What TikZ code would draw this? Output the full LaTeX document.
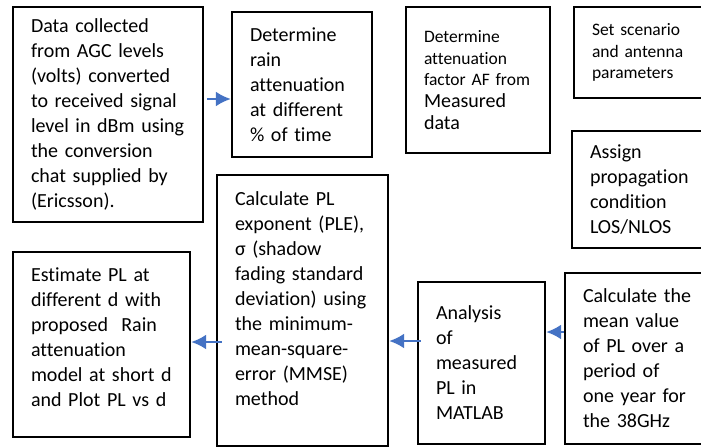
\documentclass[tikz,border=0pt]{standalone}
\usepackage{fontspec}
\setmainfont{Carlito}[Ligatures=NoCommon]
\usepackage{tikz}
\usetikzlibrary{arrows.meta}
\definecolor{flowblue}{RGB}{68,114,196}
\tikzstyle{box}=[draw=black, line width=2.4pt, align=left, inner xsep=18pt, inner ysep=0pt, font=\fontsize{20}{25}\selectfont]
\tikzstyle{smallbox} = [box, font=\fontsize{17.5}{21.5}\selectfont]
\tikzstyle{flow} = [draw, line width=2.2pt, flowblue, -{Latex[length=15pt,width=15pt]}]

\begin{document}
\begin{tikzpicture}[x=1pt, y=-1pt]

					\useasboundingbox (0,0) rectangle (701,447);
					\fill[white] (0,0) rectangle (701,447);
					\clip (0,0) rectangle (701,447);

					% top row
					\node[box, text width=154, minimum height=215] (data) at (108,114.5) {Data collected\\ from AGC levels\\ (volts) converted\\ to received signal\\ level in dBm using\\ the conversion\\ chat supplied by\\ (Ericsson).};
					\node[box, text width=104, minimum height=145] (rain) at (302,84.5) {Determine\\ rain\\ attenuation\\ at different\\ \% of time};
					\node[smallbox, text width=108, minimum height=146] (af) at (478,80) {Determine\\ attenuation\\ factor AF from\\ \fontsize{20}{22}\selectfont Measured\\ data};
					\node[smallbox, text width=110, minimum height=91] (scen) at (647,52.5) {Set scenario\\ and antenna\\ parameters};
					\node[box, text width=112, minimum height=117] (assign) at (646,189.5) {Assign\\ propagation\\ condition\\ LOS/NLOS};

					% bottom row
					\node[box, text width=141, minimum height=185] (est) at (101.5,344.5) {Estimate PL at\\ different d with\\ proposed~ Rain\\ attenuation\\ model at short d\\ and Plot PL vs d\rule[-15pt]{0pt}{15pt}};
					\node[box, text width=135, minimum height=271] (ple) at (302.5,310.5) {Calculate PL\\ exponent (PLE),\\ σ (shadow\\ fading standard\\ deviation) using\\ the minimum-\\ mean-square-\\ error (MMSE)\\ method\rule[-23pt]{0pt}{23pt}};
					\node[box, text width=91, minimum height=162] (anal) at (481.5,363) {Analysis\\ of\\ measured\\ PL in\\ MATLAB};
					\node[box, text width=119, minimum height=171] (mean) at (642.5,358.5) {Calculate the\\ mean value\\ of PL over a\\ period of\\ one year for\\ the 38GHz};

					% connectors
					\coordinate (a1) at ([xshift=3pt, yshift=15.5pt]data.east);
					\draw[flow] (a1) -- (a1 -| rain.west);

					\coordinate (a2) at ([xshift=6pt, yshift=-31.5pt]ple.west);
					\draw[flow] (a2) -- (a2 -| est.east);

					\coordinate (a3) at ([xshift=4pt, yshift=22pt]anal.west);
					\draw[flow] (a3) -- (a3 -| ple.east);

					\coordinate (a4) at ([yshift=26.5pt]mean.west);
					\draw[flow] (a4) -- (a4 -| anal.east);
				\end{tikzpicture}
\end{document}
